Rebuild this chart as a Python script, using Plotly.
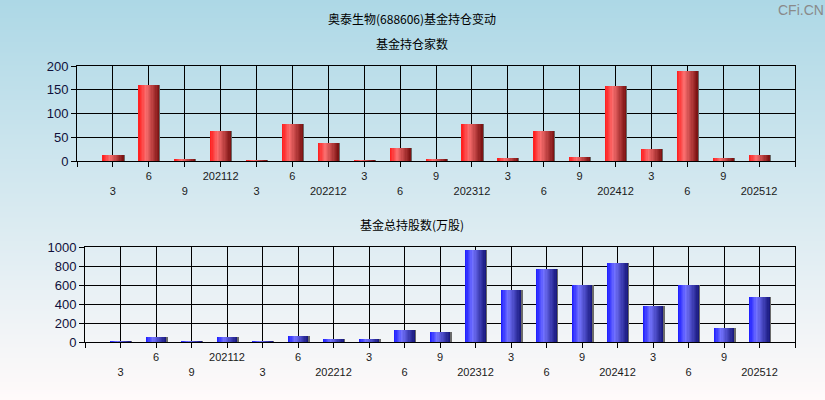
import base64
import struct
import zlib
import plotly.graph_objects as go

# ---- data ----
period_labels = ["3", "6", "9", "202112", "3", "6", "202212", "3", "6", "9",
                 "202312", "3", "6", "9", "202412", "3", "6", "9", "202512"]
fund_count = [13, 160, 4, 63, 2, 78, 38, 2, 27, 4, 78, 6, 63, 8, 158, 25, 190, 6, 13]
fund_shares = [8, 48, 10, 48, 10, 59, 27, 27, 122, 101, 964, 543, 772, 600, 828,
               382, 600, 143, 470]

main_title = "奥泰生物(688606)基金持仓变动"
top_title = "基金持仓家数"
bottom_title = "基金总持股数(万股)"

W, H = 825, 400
xs = list(range(len(period_labels)))


def png_gradient(h, top, bottom):
    raw = b""
    for i in range(h):
        t = i / (h - 1)
        r, g, b = [round(a + (c - a) * t) for a, c in zip(top, bottom)]
        raw += b"\x00" + bytes([r, g, b, r, g, b])

    def chunk(tag, data):
        return (struct.pack(">I", len(data)) + tag + data
                + struct.pack(">I", zlib.crc32(tag + data) & 0xffffffff))

    ihdr = struct.pack(">IIBBBBB", 2, h, 8, 2, 0, 0, 0)
    png = (b"\x89PNG\r\n\x1a\n" + chunk(b"IHDR", ihdr)
           + chunk(b"IDAT", zlib.compress(raw)) + chunk(b"IEND", b""))
    return "data:image/png;base64," + base64.b64encode(png).decode()


def lerp_stops(stops, f):
    for (f0, c0), (f1, c1) in zip(stops, stops[1:]):
        if f0 <= f <= f1:
            t = (f - f0) / (f1 - f0) if f1 > f0 else 0
            return "rgb(%d,%d,%d)" % tuple(round(a + (b - a) * t) for a, b in zip(c0, c1))
    return "rgb(%d,%d,%d)" % stops[-1][1]


red_stops = [(0.0, (255, 25, 25)), (0.35, (250, 110, 110)), (1.0, (120, 15, 15))]
blue_stops = [(0.0, (25, 25, 255)), (0.35, (115, 115, 255)), (1.0, (20, 20, 120))]

fig = go.Figure()

BAR_W = 0.58
N = 16


def add_gradient_bars(vals, stops, xa, ya):
    # shadow strip
    fig.add_trace(go.Bar(x=xs, y=vals, width=0.04, offset=BAR_W / 2 - 0.005,
                         marker=dict(color="#6a6a6a", line=dict(width=0)),
                         xaxis=xa, yaxis=ya, hoverinfo="skip", showlegend=False))
    sw = BAR_W / N
    for i in range(N):
        f = (i + 0.5) / N
        fig.add_trace(go.Bar(x=xs, y=vals, width=sw * 1.15, offset=-BAR_W / 2 + i * sw,
                             marker=dict(color=lerp_stops(stops, f), line=dict(width=0)),
                             xaxis=xa, yaxis=ya, hoverinfo="skip", showlegend=False))


add_gradient_bars(fund_count, red_stops, "x", "y")
add_gradient_bars(fund_shares, blue_stops, "x2", "y2")

tickvals = [-1] + xs + [len(xs)]
ticktext = [""] + [("<br>" + s) if i % 2 == 0 else s for i, s in enumerate(period_labels)] + [""]

font_ticks_x = dict(family="Liberation Sans, Arial", size=11, color="#1a1a1a")
font_ticks_y = dict(family="Liberation Sans, Arial", size=13, color="#10103a")

xcommon = dict(range=[-1, len(xs)], tickvals=tickvals, ticktext=ticktext,
               showgrid=True, gridcolor="black", gridwidth=1,
               showline=True, linecolor="black", linewidth=1, mirror=True,
               ticks="outside", ticklen=5, tickcolor="black", tickangle=0,
               zeroline=False, tickfont=font_ticks_x, fixedrange=True, automargin=False)
ycommon = dict(showgrid=True, gridcolor="black", gridwidth=1,
               showline=True, linecolor="black", linewidth=1, mirror=True,
               ticks="outside", ticklen=5, tickcolor="black",
               zeroline=False, tickfont=font_ticks_y, fixedrange=True, automargin=False)

cjk = dict(family="Noto Sans CJK SC", size=12, color="black")

fig.update_layout(
    width=W, height=H,
    margin=dict(l=0, r=0, t=0, b=0, autoexpand=False),
    paper_bgcolor="rgba(0,0,0,0)",
    plot_bgcolor="rgba(0,0,0,0)",
    barmode="overlay",
    bargap=0,
    showlegend=False,
    xaxis=dict(domain=[77 / W, 795 / W], anchor="y", **xcommon),
    yaxis=dict(domain=[1 - 161 / H, 1 - 66 / H], anchor="x",
               range=[0, 200], tickvals=[0, 50, 100, 150, 200], **ycommon),
    xaxis2=dict(domain=[85 / W, 795 / W], anchor="y2", **xcommon),
    yaxis2=dict(domain=[1 - 342 / H, 1 - 247 / H], anchor="x2",
                range=[0, 1000], tickvals=[0, 200, 400, 600, 800, 1000], **ycommon),
    images=[dict(source=png_gradient(400, (173, 216, 230), (255, 250, 250)),
                 xref="paper", yref="paper", x=0, y=1, sizex=1, sizey=1,
                 sizing="stretch", layer="below", xanchor="left", yanchor="top")],
    annotations=[
        dict(text=main_title, x=412 / W, y=1 - 18 / H, font=cjk),
        dict(text=top_title, x=412 / W, y=1 - 43 / H, font=cjk),
        dict(text=bottom_title, x=412 / W, y=1 - 224 / H, font=cjk),
        dict(text="CFi.CN", x=801 / W, y=1 - 10 / H,
             font=dict(family="Liberation Sans, Arial", size=14, color="#8a8a8a")),
    ],
)
fig.update_annotations(xref="paper", yref="paper", showarrow=False,
                       xanchor="center", yanchor="middle")

fig.write_html("out.html", config={"displayModeBar": False, "staticPlot": True},
               post_script="document.body.style.margin='0';document.body.style.overflow='hidden';")
